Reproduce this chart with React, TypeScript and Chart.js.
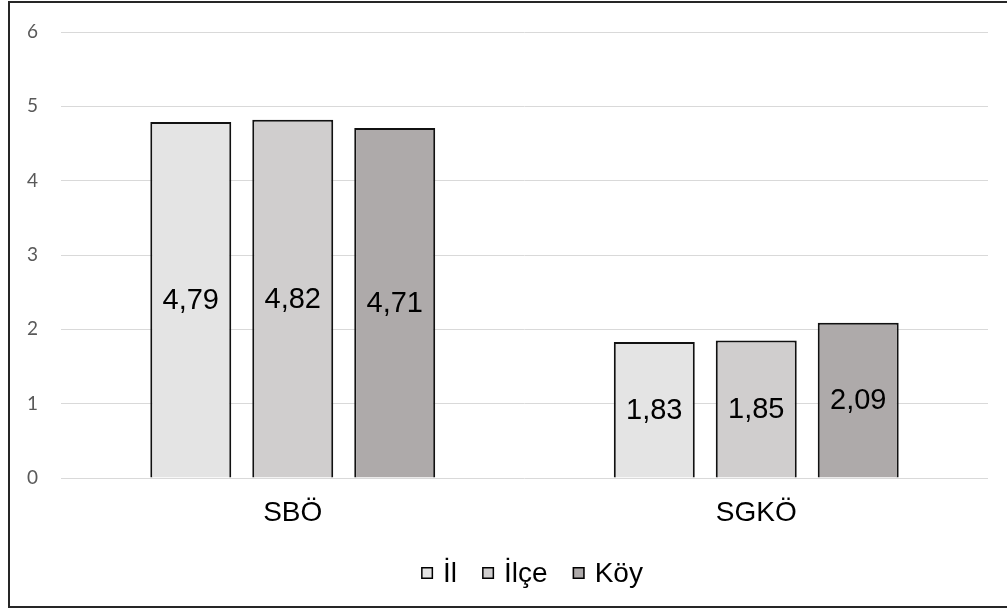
import React, { useEffect, useRef } from "react";
import { Chart, registerables } from "chart.js";

Chart.register(...registerables);

const categories = ["SBÖ", "SGKÖ"];
const seriesNames = ["İl", "İlçe", "Köy"];
const ilValues = [4.79, 1.83];
const ilceValues = [4.82, 1.85];
const koyValues = [4.71, 2.09];
const seriesColors = ["#E4E4E4", "#D0CECE", "#AEAAAA"];
const yTicks = [0, 1, 2, 3, 4, 5, 6];

const FONT = "'Liberation Sans', Arial, sans-serif";

const fmt = (v: number) => v.toFixed(2).replace(".", ",");

const barLabelPlugin = {
  id: "barLabels",
  afterDatasetsDraw(chart: any) {
    const ctx = chart.ctx;
    ctx.save();
    ctx.font = `29px ${FONT}`;
    ctx.fillStyle = "#000";
    ctx.textAlign = "center";
    ctx.textBaseline = "middle";
    chart.data.datasets.forEach((ds: any, di: number) => {
      const meta = chart.getDatasetMeta(di);
      meta.data.forEach((el: any, i: number) => {
        const y = (el.y + el.base) / 2;
        ctx.fillText(fmt(ds.data[i]), el.x, y + 1);
      });
    });
    ctx.restore();
  },
};

const legendPlugin = {
  id: "customLegend",
  afterDraw(chart: any) {
    const ctx = chart.ctx;
    const box = 12;
    const gap = 10;
    const spacing = 25;
    ctx.save();
    ctx.font = `28px ${FONT}`;
    const items = chart.data.datasets.map((ds: any) => ({
      text: ds.label,
      color: ds.backgroundColor,
      w: ctx.measureText(ds.label).width,
    }));
    const total =
      items.reduce((s: number, it: any) => s + box + gap + it.w, 0) +
      spacing * (items.length - 1);
    const cx = 522;
    const cy = 570;
    let x = cx - total / 2;
    items.forEach((it: any) => {
      ctx.fillStyle = it.color;
      ctx.fillRect(x, cy - box / 2, box, box);
      ctx.strokeStyle = "#000";
      ctx.lineWidth = 1.5;
      ctx.strokeRect(x + 0.75, cy - box / 2 + 0.75, box - 1.5, box - 1.5);
      ctx.fillStyle = "#000";
      ctx.textAlign = "left";
      ctx.textBaseline = "middle";
      ctx.fillText(it.text, x + box + gap, cy + 1);
      x += box + gap + it.w + spacing;
    });
    ctx.restore();
  },
};

export default function App() {
  const ref = useRef<HTMLCanvasElement | null>(null);
  useEffect(() => {
    if (!ref.current) return;
    const values = [ilValues, ilceValues, koyValues];
    const chart = new Chart(ref.current, {
      type: "bar",
      data: {
        labels: categories,
        datasets: seriesNames.map((name, i) => ({
          label: name,
          data: values[i],
          backgroundColor: seriesColors[i],
          borderColor: "#111",
          borderWidth: 2,
          categoryPercentage: 0.66,
          barPercentage: 0.794,
        })),
      },
      options: {
        responsive: false,
        animation: false,
        layout: { padding: { left: 17, right: 23, top: 29, bottom: 0 } },
        plugins: {
          legend: { display: false },
          tooltip: { enabled: false },
        },
        scales: {
          x: {
            grid: { display: false, drawTicks: false },
            border: { display: false },
            ticks: {
              color: "#000",
              font: { family: FONT, size: 28 },
              padding: 18,
            },
            afterFit(scale: any) {
              scale.height = 128;
            },
          },
          y: {
            min: 0,
            max: 6,
            afterBuildTicks(scale: any) {
              scale.ticks = yTicks.map((v) => ({ value: v }));
            },
            grid: { color: "#D9D9D9", lineWidth: 1, drawTicks: false },
            border: { display: false },
            ticks: {
              color: "#595959",
              font: { family: "Lato, 'Open Sans', sans-serif", size: 19 },
              padding: 0,
              crossAlign: "far",
            },
            afterFit(scale: any) {
              scale.width = 34;
            },
          },
        },
      },
      plugins: [barLabelPlugin, legendPlugin],
    });
    return () => chart.destroy();
  }, []);

  return (
    <div
      style={{
        position: "absolute",
        left: 8,
        top: 1,
        width: 1005,
        height: 607,
        boxSizing: "border-box",
        border: "2px solid #262626",
        overflow: "hidden",
        background: "#fff",
      }}
    >
      <canvas ref={ref} width={1001} height={603} style={{ display: "block" }} />
    </div>
  );
}
